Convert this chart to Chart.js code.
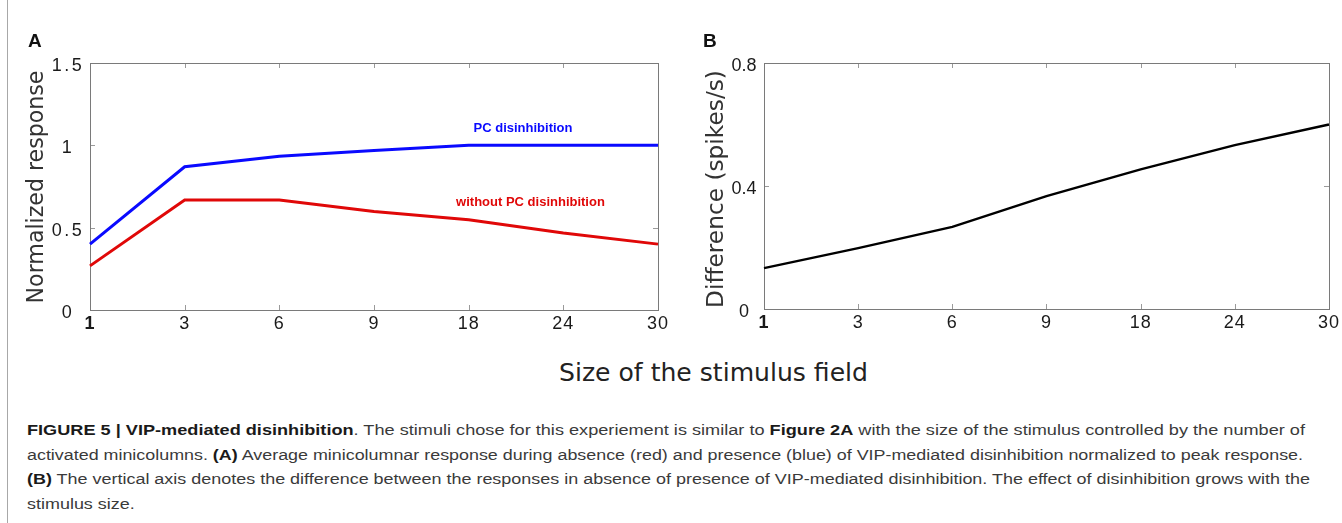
<!DOCTYPE html>
<html>
<head>
<meta charset="utf-8">
<script src="https://cdn.jsdelivr.net/npm/chart.js@4"></script>
<style>
  html, body { margin: 0; padding: 0; background: #fff; }
  body { width: 1342px; height: 523px; position: relative; overflow: hidden; font-family: "Liberation Sans", Arial, sans-serif; }
  .abs { position: absolute; }
  canvas { position: absolute; }
  .panel { font-weight: bold; font-size: 19px; line-height: 19px; color: #111; }
  .ytitle { font-family: "DejaVu Sans", sans-serif; font-size: 21px; color: #333; white-space: nowrap; transform: translate(-50%, -50%) rotate(-90deg); }
  .xtitle { font-family: "DejaVu Sans", sans-serif; font-size: 23px; color: #222; white-space: nowrap; transform: translate(-50%, -50%); }
  .ann { font-weight: bold; font-size: 13px; white-space: nowrap; transform: translate(-50%, -50%); }
  .cap { font-size: 15.5px; color: #3a3a3a; white-space: nowrap; line-height: 24.5px; }
  .cap span { display: inline-block; transform-origin: 0 50%; }
  .cap b { color: #1a1a1a; }
</style>
</head>
<body>
<div class="abs" style="left:7px;top:0;width:1px;height:523px;background:#a8a8a8"></div>
<canvas id="chartA" width="680" height="345" style="left:0;top:0"></canvas>
<canvas id="chartB" width="662" height="345" style="left:680px;top:0"></canvas>
<div class="abs panel" style="left:28px;top:31px">A</div>
<div class="abs panel" style="left:703px;top:31px">B</div>
<div class="abs ytitle" id="ytA" style="left:34.5px;top:186.5px">Normalized response</div>
<div class="abs ytitle" id="ytB" style="left:714px;top:189px">Difference (spikes/s)</div>
<div class="abs xtitle" id="xt" style="left:713.5px;top:372px">Size of the stimulus field</div>
<div class="abs ann" style="left:523px;top:127px;color:#0a0aff">PC disinhibition</div>
<div class="abs ann" style="left:530.5px;top:201px;color:#e00808">without PC disinhibition</div>
<div class="abs cap" style="left:27px;top:418.4px">
<div><span data-t="1278"><b>FIGURE 5 | VIP-mediated disinhibition</b>. The stimuli chose for this experiement is similar to <b>Figure 2A</b> with the size of the stimulus controlled by the number of</span></div>
<div><span data-t="1276">activated minicolumns. <b>(A)</b> Average minicolumnar response during absence (red) and presence (blue) of VIP-mediated disinhibition normalized to peak response.</span></div>
<div><span data-t="1283"><b>(B)</b> The vertical axis denotes the difference between the responses in absence of presence of VIP-mediated disinhibition. The effect of disinhibition grows with the</span></div>
<div><span>stimulus size.</span></div>
</div>
<script>
const categories = ['1', '3', '6', '9', '18', '24', '30'];
const pcDisinhibition = [0.40, 0.87, 0.933, 0.968, 1.0, 1.0, 1.0];
const withoutPcDisinhibition = [0.268, 0.668, 0.668, 0.598, 0.548, 0.467, 0.40];
const difference = [0.133, 0.198, 0.267, 0.367, 0.454, 0.533, 0.600];
const yTicksA = [0, 0.5, 1, 1.5];
const yTicksB = [0, 0.4, 0.8];

// caption: stretch each line so it spans the same width as in the figure
let capScale = 1;
document.querySelectorAll('.cap span[data-t]').forEach(s => {
  const w = s.getBoundingClientRect().width;
  capScale = parseFloat(s.dataset.t) / w;
  s.style.transform = 'scaleX(' + capScale + ')';
});
document.querySelector('.cap span:not([data-t])').style.transform = 'scaleX(' + capScale + ')';

// fit titles to their lengths in the figure
function fitLen(id, target) {
  const el = document.getElementById(id);
  const w = el.getBoundingClientRect();
  const len = Math.max(w.width, w.height);
  const fs = parseFloat(getComputedStyle(el).fontSize);
  el.style.fontSize = (fs * target / len) + 'px';
}
fitLen('ytA', 233);
fitLen('ytB', 238);
fitLen('xt', 309);

function makeBoxPlugin(ySpacing) {
  return {
    id: 'boxTicks',
    afterUpdate(chart) {
      const ctx = chart.ctx;
      const spacing = { x: '1px', y: ySpacing };
      ['x', 'y'].forEach(k => {
        const sc = chart.scales[k];
        if (sc._patched) return;
        const orig = sc.drawLabels.bind(sc);
        sc.drawLabels = function (area) {
          ctx.save();
          ctx.letterSpacing = spacing[k];
          if (k === 'y') ctx.translate(0, 3);
          orig(area);
          ctx.restore();
          ctx.letterSpacing = '0px';
        };
        sc._patched = true;
      });
    },
    beforeDatasetsDraw(chart) {
      const ctx = chart.ctx;
      const a = chart.chartArea;
      const xs = chart.scales.x, ys = chart.scales.y;
      const len = 5;
      ctx.save();
      ctx.strokeStyle = '#9a9a9a';
      ctx.lineWidth = 1;
      ctx.beginPath();
      xs.ticks.forEach((t, i) => {
        const x = Math.round(xs.getPixelForTick(i)) + 0.5;
        ctx.moveTo(x, a.bottom); ctx.lineTo(x, a.bottom - len);
        ctx.moveTo(x, a.top); ctx.lineTo(x, a.top + len);
      });
      ys.ticks.forEach(t => {
        const y = Math.round(ys.getPixelForValue(t.value)) + 0.5;
        ctx.moveTo(a.left, y); ctx.lineTo(a.left + len, y);
        ctx.moveTo(a.right, y); ctx.lineTo(a.right - len, y);
      });
      ctx.stroke();
      ctx.strokeStyle = '#7a7a7a';
      ctx.strokeRect(Math.round(a.left) + 0.5, Math.round(a.top) + 0.5, Math.round(a.right - a.left), Math.round(a.bottom - a.top));
      ctx.restore();
    }
  };
}

function makeChart(id, datasets, yMax, yTicks, pad, yWidth, xHeight, yTickPad, ySpacing) {
  return new Chart(document.getElementById(id), {
    type: 'line',
    data: { labels: categories, datasets },
    options: {
      responsive: false,
      animation: false,
      devicePixelRatio: 1,
      layout: { padding: pad },
      plugins: { legend: { display: false }, tooltip: { enabled: false } },
      elements: { point: { radius: 0 }, line: { tension: 0 } },
      scales: {
        x: {
          offset: false,
          grid: { display: false, drawTicks: false },
          border: { display: false },
          afterFit(s) { s.height = xHeight; },
          ticks: {
            color: '#1a1a1a', padding: 3, maxRotation: 0, autoSkip: false,
            font: ctx => ({ family: 'Liberation Sans', size: 18, weight: ctx.index === 0 ? 'bold' : 'normal' })
          }
        },
        y: {
          min: 0, max: yMax,
          grid: { display: false, drawTicks: false },
          border: { display: false },
          afterFit(s) { s.width = yWidth; },
          afterBuildTicks(s) { s.ticks = yTicks.map(v => ({ value: v })); },
          ticks: {
            color: '#1a1a1a', padding: yTickPad, crossAlign: 'center',
            font: { family: 'Liberation Sans', size: 18 },
            callback: v => String(v)
          }
        }
      }
    },
    plugins: [makeBoxPlugin(ySpacing)]
  });
}

makeChart('chartA', [
  { data: pcDisinhibition, borderColor: '#0a0aff', borderWidth: 3 },
  { data: withoutPcDisinhibition, borderColor: '#e00808', borderWidth: 3 }
], 1.5, yTicksA, { top: 63, right: 22, left: 0, bottom: 0 }, 90, 35, 9.5, '2.5px');

makeChart('chartB', [
  { data: difference, borderColor: '#000', borderWidth: 2.5 }
], 0.8, yTicksB, { top: 63, right: 10, left: 0, bottom: 0 }, 84, 36, 7.5, '0px');
</script>
</body>
</html>
